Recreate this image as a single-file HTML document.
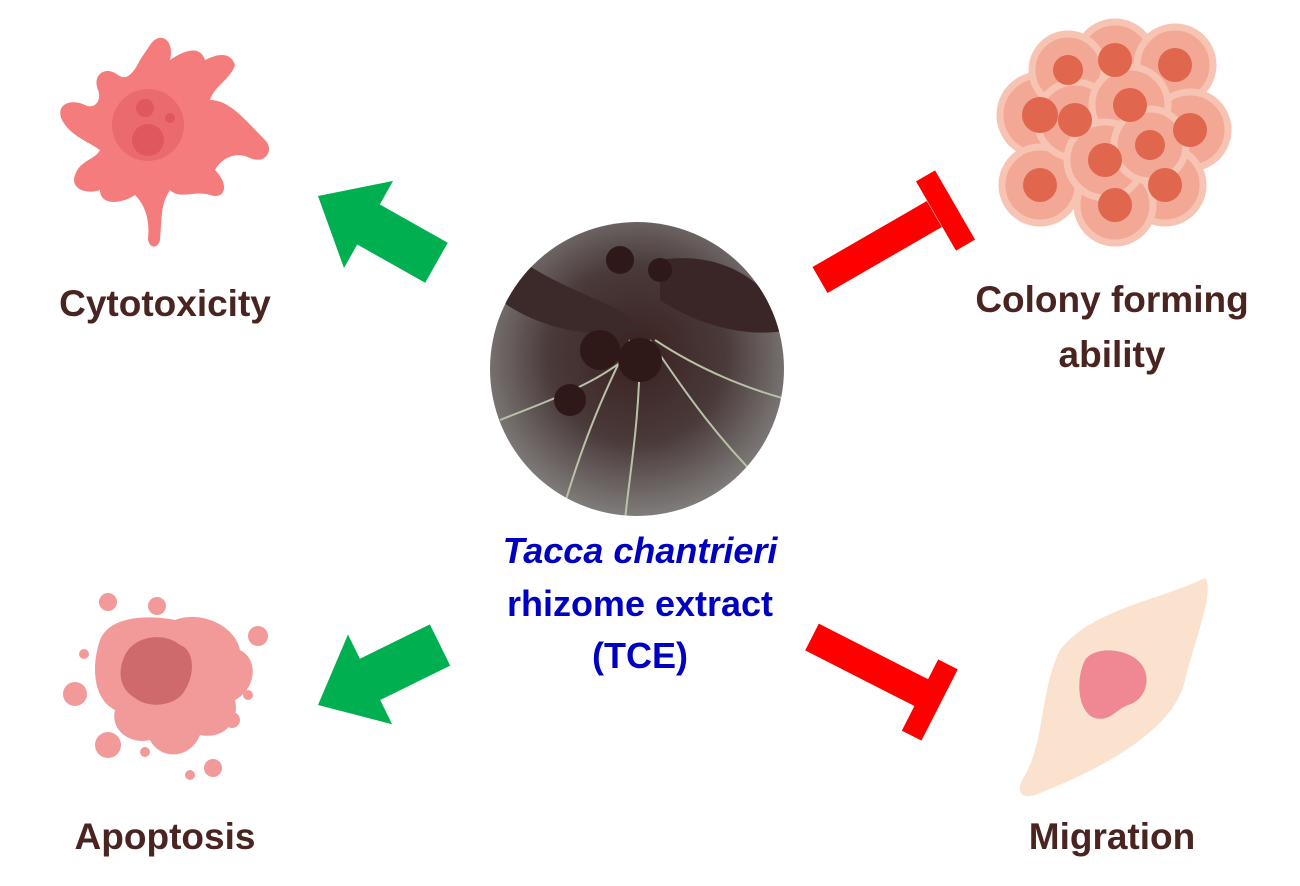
<!DOCTYPE html>
<html><head><meta charset="utf-8"><style>
html,body{margin:0;padding:0;background:#fff;}
svg{display:block}
text{font-family:"Liberation Sans",Arial,sans-serif;font-weight:bold;}
</style></head><body>
<svg width="1300" height="886" viewBox="0 0 1300 886" xmlns="http://www.w3.org/2000/svg">
<defs>
<radialGradient id="ph" cx="50%" cy="45%" r="60%">
<stop offset="0" stop-color="#3a2020"/><stop offset="0.5" stop-color="#4a3a3a"/><stop offset="1" stop-color="#8a8a88"/>
</radialGradient>
<clipPath id="cc"><circle cx="637" cy="369" r="147"/></clipPath>
</defs>

<!-- Cytotoxicity cell -->
<g fill="#f47c7c">
<path d="M150,45 C160,30 175,40 170,60 C185,50 200,45 205,60 C215,55 230,50 235,65 C230,80 215,85 210,100 C230,100 245,120 265,140 C275,150 265,165 250,158 C235,150 220,160 215,170 C230,185 225,200 210,195 C195,190 180,200 170,190 C160,205 162,220 160,240 C158,250 148,248 148,238 C150,220 145,205 135,195 C120,205 100,205 100,190 C85,195 70,188 75,175 C80,160 95,160 100,150 C85,140 70,135 62,120 C55,105 70,98 85,105 C95,110 102,100 98,90 C92,75 105,65 118,75 C128,82 135,70 140,60 Z"/>
</g>
<circle cx="148" cy="125" r="36" fill="#ea6a6e"/>
<circle cx="148" cy="140" r="16" fill="#e0585e"/>
<circle cx="145" cy="108" r="9" fill="#e0585e"/>
<circle cx="170" cy="118" r="5" fill="#e0585e"/>

<!-- Colony -->
<g>
<g fill="#f2a895" stroke="#f7c3b3" stroke-width="7">
<circle cx="1040" cy="115" r="40"/><circle cx="1115" cy="60" r="38"/><circle cx="1175" cy="65" r="38"/>
<circle cx="1068" cy="70" r="36"/><circle cx="1190" cy="130" r="38"/><circle cx="1040" cy="185" r="38"/>
<circle cx="1165" cy="185" r="38"/><circle cx="1115" cy="205" r="38"/><circle cx="1075" cy="120" r="38"/>
<circle cx="1130" cy="105" r="38"/><circle cx="1105" cy="160" r="38"/><circle cx="1150" cy="145" r="36"/>
</g>
<g fill="#e0664e">
<circle cx="1040" cy="115" r="18"/><circle cx="1115" cy="60" r="17"/><circle cx="1175" cy="65" r="17"/>
<circle cx="1068" cy="70" r="15"/><circle cx="1190" cy="130" r="17"/><circle cx="1040" cy="185" r="17"/>
<circle cx="1165" cy="185" r="17"/><circle cx="1115" cy="205" r="17"/><circle cx="1075" cy="120" r="17"/>
<circle cx="1130" cy="105" r="17"/><circle cx="1105" cy="160" r="17"/><circle cx="1150" cy="145" r="15"/>
</g>
</g>

<!-- Apoptosis -->
<g fill="#f29a9a">
<path d="M100,640 C110,615 150,615 175,620 C200,610 235,625 240,650 C260,660 255,690 235,700 C240,720 225,740 200,735 C190,760 160,760 150,740 C130,745 110,730 115,710 C95,700 90,670 100,640 Z"/>
<circle cx="108" cy="602" r="9"/><circle cx="157" cy="606" r="9"/><circle cx="258" cy="636" r="10"/>
<circle cx="75" cy="694" r="12"/><circle cx="108" cy="745" r="13"/><circle cx="213" cy="768" r="9"/>
<circle cx="232" cy="720" r="8"/><circle cx="84" cy="654" r="5"/><circle cx="248" cy="695" r="5"/>
<circle cx="145" cy="752" r="5"/><circle cx="190" cy="775" r="5"/>
</g>
<path d="M125,655 C135,635 165,632 180,645 C195,650 195,675 185,690 C178,705 150,710 135,698 C118,688 118,670 125,655 Z" fill="#cf6a6c"/>

<!-- Migration -->
<path d="M1205,578 C1215,590 1195,640 1185,680 C1175,730 1100,770 1035,795 C1020,800 1015,790 1025,775 C1045,740 1040,690 1060,650 C1090,610 1160,600 1205,578 Z" fill="#fbe2cf"/>
<path d="M1085,660 C1095,645 1130,648 1142,665 C1152,680 1145,700 1128,705 C1115,710 1110,722 1095,718 C1078,713 1075,680 1085,660 Z" fill="#ef8893"/>

<!-- Center photo -->
<circle cx="637" cy="369" r="147" fill="url(#ph)"/>
<g clip-path="url(#cc)">
<path d="M520,260 C580,300 620,300 640,330 C600,340 540,330 500,300 Z" fill="#3c2a2a"/>
<path d="M660,260 C720,250 770,280 790,330 C740,340 690,320 660,300 Z" fill="#3a2626"/>
<g stroke="#b9c2a8" stroke-width="2" fill="none">
<path d="M630,340 C600,400 580,450 560,520"/><path d="M640,340 C640,420 630,470 625,520"/>
<path d="M650,340 C690,400 720,440 760,480"/><path d="M645,340 C610,380 550,400 500,420"/>
<path d="M655,340 C700,370 750,390 790,400"/>
</g>
<g fill="#2e1818"><circle cx="600" cy="350" r="20"/><circle cx="640" cy="360" r="22"/><circle cx="570" cy="400" r="16"/><circle cx="620" cy="260" r="14"/><circle cx="660" cy="270" r="12"/></g>
</g>

<!-- Green arrows -->
<g fill="#00b050">
<polygon transform="translate(318,196) rotate(29.4)" points="0,0 58,-50 58,-23 136,-23 136,23 58,23 58,50"/>
<polygon transform="translate(318,705) rotate(-26.2)" points="0,0 58,-50 58,-23 136,-23 136,23 58,23 58,50"/>
</g>
<!-- Red T bars -->
<g fill="#ff0000">
<polygon transform="translate(820,280) rotate(-30)" points="0,-15 132,-15 132,15 0,15"/>
<polygon transform="translate(936,216) rotate(-30)" points="0,-40 22,-40 22,40 0,40"/>
<polygon transform="translate(812,637) rotate(27)" points="0,-15 124,-15 124,15 0,15"/>
<polygon transform="translate(920,695) rotate(27)" points="0,-40 22,-40 22,40 0,40"/>
</g>

<!-- Labels -->
<g fill="#4a2420" font-size="37" text-anchor="middle">
<text x="165" y="316">Cytotoxicity</text>
<text x="1112" y="312">Colony forming</text>
<text x="1112" y="367">ability</text>
<text x="165" y="849">Apoptosis</text>
<text x="1112" y="849">Migration</text>
</g>
<g fill="#0000c0" font-size="36" text-anchor="middle">
<text x="640" y="563" font-style="italic">Tacca chantrieri</text>
<text x="640" y="616">rhizome extract</text>
<text x="640" y="668">(TCE)</text>
</g>
</svg>
</body></html>
